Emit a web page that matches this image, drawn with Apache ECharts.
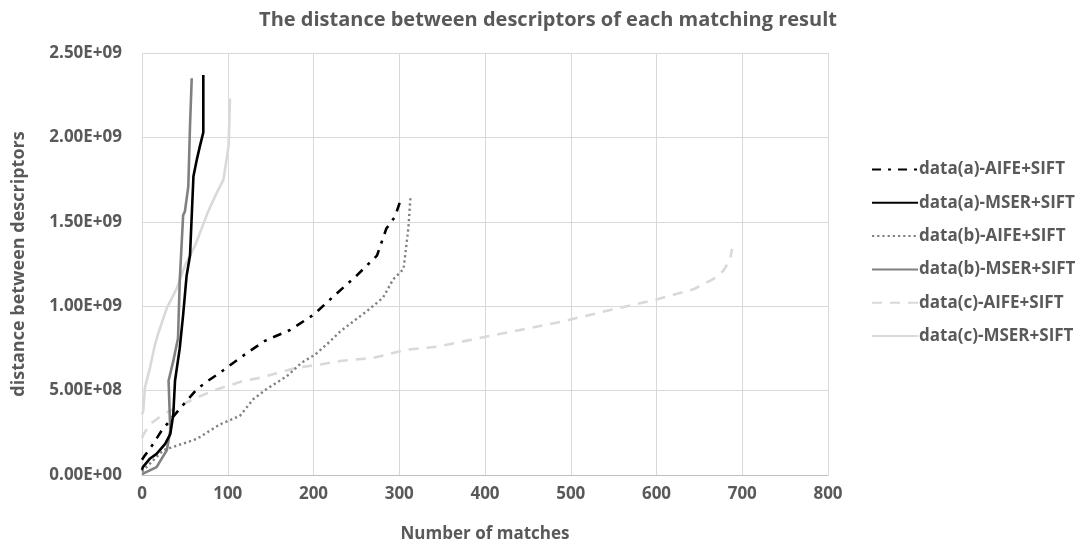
<!DOCTYPE html>
<html>
<head>
<meta charset="utf-8">
<script src="https://cdn.jsdelivr.net/npm/echarts@6/dist/echarts.min.js"></script>
<style>
html,body{margin:0;padding:0;background:#fff;}
#chart{width:1078px;height:548px;}
</style>
</head>
<body>
<div id="chart"></div>
<script>
// ---- data (x = match index, y = descriptor distance) ----
const seriesNames = ['data(a)-AIFE+SIFT','data(a)-MSER+SIFT','data(b)-AIFE+SIFT','data(b)-MSER+SIFT','data(c)-AIFE+SIFT','data(c)-MSER+SIFT'];

const aAifeX = [0, 2, 13, 23, 42, 64, 77, 91, 116, 143, 173, 200, 225, 250, 274, 285, 295, 301, 302];
const aAifeY = [0.9e8, 1.06e8, 1.84e8, 2.64e8, 3.8e8, 5.08e8, 5.58e8, 6.06e8, 7.0e8, 7.94e8, 8.6e8, 9.49e8, 1.066e9, 1.18e9, 1.30e9, 1.46e9, 1.53e9, 1.62e9, 1.65e9];

const aMserX = [0, 1, 9, 17, 27, 33, 36.5, 38.5, 44, 48, 52, 56, 60, 64, 67.6, 71.5, 71.5];
const aMserY = [0.3e8, 4.7e7, 9.6e7, 1.25e8, 1.84e8, 2.43e8, 3.6e8, 5.58e8, 7.5e8, 9.5e8, 1.18e9, 1.3e9, 1.77e9, 1.87e9, 1.95e9, 2.03e9, 2.37e9];

const bAifeX = [0, 9, 25, 64, 91, 114, 130, 145, 169, 186, 202, 219, 231, 262, 281, 293, 305, 310.6, 313];
const bAifeY = [0.2e8, 6.6e7, 1.47e8, 2.14e8, 3.0e8, 3.5e8, 4.5e8, 5.08e8, 5.86e8, 6.65e8, 7.14e8, 7.9e8, 8.5e8, 9.7e8, 1.05e9, 1.16e9, 1.22e9, 1.46e9, 1.64e9];

const bMserX = [0, 17, 29, 33, 31, 36.5, 42, 44, 48, 50, 54, 56, 58];
const bMserY = [0.05e8, 4.7e7, 1.47e8, 2.64e8, 5.58e8, 6.76e8, 8.1e8, 1.15e9, 1.54e9, 1.56e9, 1.71e9, 2.07e9, 2.35e9];

const cAifeX = [0, 2, 9, 25, 56, 83, 118, 138, 180, 208, 231, 270, 309, 344, 402, 452, 491, 515, 557, 600, 643, 666, 678, 686, 688];
const cAifeY = [2.2e8, 2.43e8, 3.0e8, 3.6e8, 4.4e8, 5.0e8, 5.57e8, 5.76e8, 6.35e8, 6.55e8, 6.75e8, 6.94e8, 7.43e8, 7.6e8, 8.2e8, 8.7e8, 9.1e8, 9.4e8, 9.9e8, 1.04e9, 1.10e9, 1.16e9, 1.21e9, 1.28e9, 1.34e9];

const cMserX = [0, 1.5, 3.5, 9.3, 15, 19, 29, 40, 50, 62, 77, 87, 95, 101, 102.6];
const cMserY = [3.6e8, 3.8e8, 5.2e8, 6.35e8, 7.7e8, 8.4e8, 9.9e8, 1.1e9, 1.24e9, 1.36e9, 1.56e9, 1.67e9, 1.75e9, 1.95e9, 2.23e9];

const xTicks = [0, 100, 200, 300, 400, 500, 600, 700, 800];
const yTicks = [0, 5e8, 1e9, 1.5e9, 2e9, 2.5e9];

// ---- build ----
function zip(xs, ys){ return xs.map((x,i)=>[x, ys[i]]); }
function sci(v){
  if (v === 0) return '0.00E+00';
  const e = Math.floor(Math.log10(Math.abs(v)));
  const m = v / Math.pow(10, e);
  return m.toFixed(2) + 'E+' + (e < 10 ? '0' + e : e);
}
const txt = '#595959';
const FONT = 'Open Sans';
const styles = [
  {color:'#000000', type:[9,7,3,7], width:2.6},
  {color:'#000000', type:'solid', width:2.6},
  {color:'#808080', type:[2.2,3], width:2.4},
  {color:'#808080', type:'solid', width:2.6},
  {color:'#d9d9d9', type:[10,8], width:2.6},
  {color:'#d9d9d9', type:'solid', width:2.6}
];
const dataSets = [zip(aAifeX,aAifeY), zip(aMserX,aMserY), zip(bAifeX,bAifeY), zip(bMserX,bMserY), zip(cAifeX,cAifeY), zip(cMserX,cMserY)];

const chart = echarts.init(document.getElementById('chart'), null, {renderer:'canvas'});
chart.setOption({
  animation:false,
  backgroundColor:'#ffffff',
  title:{
    text:'The distance between descriptors of each matching result',
    left:543, top:5, textAlign:'center',
    textStyle:{fontFamily:FONT, fontSize:20, fontWeight:'bold', color:txt}
  },
  legend:{
    orient:'vertical',
    left:866, top:156,
    itemWidth:46, itemHeight:14, itemGap:16.3,
    itemStyle:{opacity:0},
    textStyle:{fontFamily:FONT, fontSize:17, fontWeight:'bold', color:txt, padding:[0,0,0,-4]},
    data:seriesNames
  },
  grid:{left:142, right:250, top:53, bottom:70, containLabel:false},
  xAxis:{
    type:'value', min:xTicks[0], max:xTicks[xTicks.length-1], interval:100,
    name:'Number of matches', nameLocation:'middle', nameGap:51,
    nameTextStyle:{fontFamily:FONT, fontSize:17, fontWeight:'bold', color:txt},
    axisLine:{show:true, lineStyle:{color:'#bfbfbf', width:1}},
    axisTick:{show:false},
    axisLabel:{fontFamily:FONT, fontSize:17, fontWeight:'bold', color:txt, margin:11},
    splitLine:{show:true, lineStyle:{color:'#d9d9d9', width:1}}
  },
  yAxis:{
    type:'value', min:yTicks[0], max:yTicks[yTicks.length-1], interval:5e8,
    name:'distance between descriptors', nameLocation:'middle', nameGap:114,
    nameTextStyle:{fontFamily:FONT, fontSize:18, fontWeight:'bold', color:txt},
    axisLine:{show:false},
    axisTick:{show:false},
    axisLabel:{fontFamily:FONT, fontSize:17, fontWeight:'bold', color:txt, margin:20, formatter:sci},
    splitLine:{show:true, lineStyle:{color:'#d9d9d9', width:1}}
  },
  series: seriesNames.map((n,i)=>({
    name:n, type:'line', data:dataSets[i], symbol:'none', smooth:false,
    lineStyle:{color:styles[i].color, type:styles[i].type, width:styles[i].width},
    itemStyle:{color:styles[i].color},
    z: 10 - i
  }))
});
</script>
</body>
</html>
